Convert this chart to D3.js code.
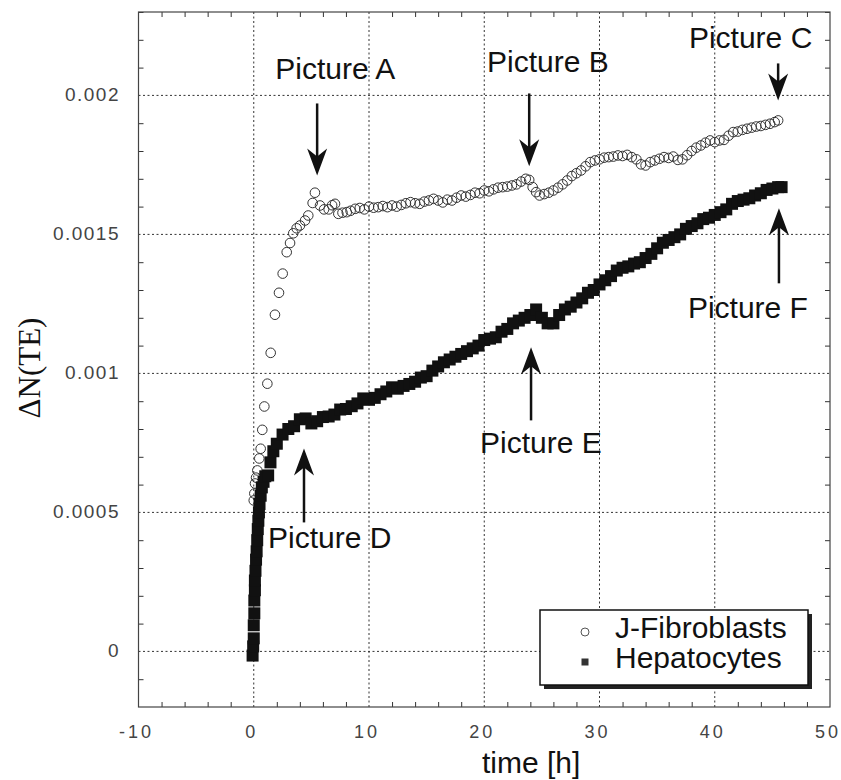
<!DOCTYPE html>
<html><head><meta charset="utf-8">
<script src="https://cdn.jsdelivr.net/npm/d3@7/dist/d3.min.js"></script>
<style>body{margin:0;background:#fff}svg{display:block}</style>
</head><body>
<svg id="chart" width="841" height="780"></svg>
<script>
// ---- data ----
const fibTime = [0.0,0.05,0.11,0.2,0.31,0.48,0.6,0.74,0.92,1.18,1.47,1.84,2.19,2.51,2.86,3.15,3.43,3.72,4.01,4.45,4.73,5.11,5.31,
 5.75,6.1,6.5,6.8,7.05,7.34,7.7,8.07,8.4,8.8,9.2,9.6,10.0,10.4,10.8,11.2,11.6,12.0,12.4,12.8,13.2,13.6,14.0,14.4,14.8,15.2,15.6,
 16.0,16.4,16.8,17.2,17.6,18.0,18.4,18.8,19.2,19.6,20.0,20.4,20.8,21.2,21.6,22.0,22.4,22.8,23.2,23.6,23.9,24.2,24.5,24.8,25.2,25.6,
 26.0,26.4,26.8,27.2,27.6,28.0,28.4,28.8,29.2,29.6,30.0,30.4,30.8,31.2,31.6,32.0,32.4,32.8,33.2,33.6,34.0,34.4,34.8,35.2,35.6,
 36.0,36.4,36.8,37.2,37.6,38.0,38.4,38.8,39.2,39.6,40.0,40.4,40.8,41.2,41.6,42.0,42.4,42.8,43.2,43.6,44.0,44.4,44.8,45.2,45.5];
const fibValue = [0.000543,0.000568,0.000604,0.000625,0.000651,0.000694,0.000729,0.000797,0.000881,0.000963,0.001074,0.001211,0.00129,0.001359,0.001436,0.001469,0.001504,0.001522,0.001532,0.00155,0.001568,0.001613,0.00165,
 0.001604,0.00159,0.00159,0.001605,0.00161,0.001574,0.001578,0.00158,0.001585,0.001592,0.001595,0.00159,0.0016,0.001596,0.001598,0.001602,0.001598,0.001604,0.0016,0.001606,0.001612,0.001616,0.001612,0.00161,0.001618,0.001622,0.001628,
 0.001622,0.001615,0.001625,0.001622,0.001632,0.00164,0.001636,0.001642,0.00165,0.001648,0.001658,0.001655,0.001662,0.001668,0.00167,0.001672,0.001676,0.00168,0.00169,0.0017,0.001696,0.00167,0.001652,0.00164,0.001645,0.00165,
 0.001658,0.001668,0.00168,0.001694,0.00171,0.00172,0.00173,0.001745,0.00176,0.001766,0.00177,0.001776,0.001778,0.00178,0.001784,0.001782,0.001786,0.001778,0.00177,0.001752,0.001748,0.00176,0.001766,0.001772,0.001778,
 0.001775,0.00178,0.001768,0.00177,0.001785,0.0018,0.001812,0.00182,0.00183,0.001838,0.001832,0.001838,0.00184,0.001855,0.001868,0.00187,0.001876,0.00188,0.001884,0.001888,0.00189,0.001894,0.001898,0.001904,0.00191];

const hepTime = [-0.1,-0.05,0,0,0.05,0.05,0.1,0.1,0.15,0.2,0.25,0.3,0.35,0.4,0.45,0.5,0.6,0.7,0.85,1.0,1.25,1.45,1.7,2.0,
 2.5,3.0,3.5,4.0,4.5,5.0,5.5,6.0,6.5,7.0,7.5,8.0,8.5,9.0,9.5,10.0,10.5,11.0,11.5,12.0,12.5,13.0,13.5,14.0,14.5,15.0,15.5,
 16.0,16.5,17.0,17.5,18.0,18.5,19.0,19.5,20.0,20.5,21.0,21.5,22.0,22.5,23.0,23.5,24.0,24.5,25.0,25.5,26.0,26.5,27.0,27.5,
 28.0,28.5,29.0,29.5,30.0,30.5,31.0,31.5,32.0,32.5,33.0,33.5,34.0,34.5,35.0,35.5,36.0,36.5,37.0,37.5,38.0,38.5,39.0,39.5,
 40.0,40.5,41.0,41.5,42.0,42.5,43.0,43.5,44.0,44.5,45.0,45.5,45.8];
const hepValue = [-0.000015,0.000018,0.000047,0.000094,0.000137,0.000183,0.00022,0.000255,0.00029,0.00033,0.00036,0.0004,0.00044,0.00047,0.0005,0.00053,0.00056,0.00059,0.00061,0.00063,0.000633,0.00068,0.00072,0.000747,
 0.00078,0.0008,0.00081,0.000835,0.000838,0.00082,0.000828,0.000843,0.000845,0.000852,0.00087,0.000872,0.000882,0.000892,0.00091,0.000905,0.000912,0.000925,0.000935,0.00095,0.000945,0.000955,0.000962,0.00097,0.000985,0.00099,0.00101,
 0.001025,0.00104,0.00105,0.00106,0.00107,0.00108,0.00109,0.0011,0.00112,0.001125,0.00113,0.00115,0.00116,0.00118,0.00119,0.0012,0.00121,0.00123,0.0012,0.00118,0.00118,0.00121,0.00123,0.00124,
 0.001255,0.00127,0.00129,0.0013,0.00132,0.001335,0.00135,0.00137,0.00138,0.001385,0.001395,0.0014,0.001415,0.00143,0.00145,0.00147,0.00148,0.00149,0.0015,0.00152,0.00153,0.00154,0.001555,0.00156,
 0.00157,0.00158,0.00159,0.00161,0.00162,0.001625,0.00163,0.00164,0.001648,0.00166,0.001665,0.00167,0.00167];

const xTicks = [-10,0,10,20,30,40,50];
const yTicks = [0,0.0005,0.001,0.0015,0.002];
const yTickLabels = ["0","0.0005","0.001","0.0015","0.002"];
const seriesNames = ["J-Fibroblasts","Hepatocytes"];

const annLabels = ["Picture A","Picture B","Picture C","Picture D","Picture E","Picture F"];
const annX      = [5.5, 23.9, 45.5, 4.36, 24.06, 45.57];
const annTail   = [0.001971,0.002007,0.002115,0.000464,0.000831,0.001324];
const annTip    = [0.001712,0.001745,0.001982,0.00073,0.001094,0.001594];
const annTextX  = [1.87,20.24,37.76,1.24,19.63,37.67];
const annTextY  = [0.002058,0.002083,0.002169,0.000371,0.000712,0.001201];

// ---- layout ----
const L=138.5, R=830, T=12, B=707;
const svg = d3.select("#chart");
const x = d3.scaleLinear().domain([-10,50]).range([L,R]);
const y = d3.scaleLinear().domain([-0.0002,0.0023]).range([B,T]);

// grid
const gridX = xTicks.filter(v=>v>-10 && v<50);
svg.append("g").selectAll("line").data(gridX).join("line")
  .attr("x1",d=>x(d)).attr("x2",d=>x(d)).attr("y1",T).attr("y2",B)
  .attr("stroke","#333").attr("stroke-width",1).attr("stroke-dasharray","2,2.5");
svg.append("g").selectAll("line").data(yTicks).join("line")
  .attr("y1",d=>y(d)).attr("y2",d=>y(d)).attr("x1",L).attr("x2",R)
  .attr("stroke","#333").attr("stroke-width",1).attr("stroke-dasharray","2,2.5");

// minor ticks (inward, all sides)
const minorX = d3.range(-8,50,2).filter(v=>v%10!==0);
const minorY = d3.range(-0.0001,0.00231,0.0001).filter(v=>Math.abs(Math.round(v*10000)%5)!==0);
svg.append("g").attr("transform",`translate(0,${B})`).call(d3.axisBottom(x).tickValues(minorX).tickSize(-5).tickFormat(""));
svg.append("g").attr("transform",`translate(0,${T})`).call(d3.axisTop(x).tickValues(minorX).tickSize(-5).tickFormat(""));
svg.append("g").attr("transform",`translate(${L},0)`).call(d3.axisLeft(y).tickValues(minorY).tickSize(-5).tickFormat(""));
svg.append("g").attr("transform",`translate(${R},0)`).call(d3.axisRight(y).tickValues(minorY).tickSize(-5).tickFormat(""));
svg.selectAll(".domain").remove();
svg.selectAll(".tick line").attr("stroke","#333");

// frame
svg.append("rect").attr("x",L).attr("y",T).attr("width",R-L).attr("height",B-T)
  .attr("fill","none").attr("stroke","#444").attr("stroke-width",1.2);

// tick labels
svg.append("g").selectAll("text").data(xTicks).join("text")
  .attr("x",d=>x(d)-2).attr("y",738).attr("text-anchor","middle")
  .attr("font-family","Liberation Sans, Arial, sans-serif").attr("font-size",18)
  .attr("letter-spacing",3).attr("fill","#444").text(d=>d);
svg.append("g").selectAll("text").data(yTicks).join("text")
  .attr("x",120).attr("y",d=>y(d)+6).attr("text-anchor","end")
  .attr("font-family","Liberation Sans, Arial, sans-serif").attr("font-size",19)
  .attr("letter-spacing",1.5).attr("fill","#444").text((d,i)=>yTickLabels[i]);

// axis titles
svg.append("text").attr("x",482).attr("y",773)
  .attr("font-family","Liberation Sans, Arial, sans-serif").attr("font-size",30).attr("fill","#111")
  .text("time [h]");
svg.append("text").attr("transform","translate(40,368) rotate(-90)").attr("text-anchor","middle")
  .attr("font-family","Liberation Serif, Times New Roman, serif").attr("font-size",31).attr("fill","#111")
  .text("\u0394N(TE)");

// series
const fib = fibTime.map((t,i)=>({t, v:fibValue[i]}));
const hep = hepTime.map((t,i)=>({t, v:hepValue[i]}));
svg.append("g").selectAll("circle").data(fib).join("circle")
  .attr("cx",d=>x(d.t)).attr("cy",d=>y(d.v)).attr("r",4.8)
  .attr("fill","none").attr("stroke","#333").attr("stroke-width",1);
const sq=12;
svg.append("g").selectAll("rect").data(hep).join("rect")
  .attr("x",d=>x(d.t)-sq/2).attr("y",d=>y(d.v)-sq/2).attr("width",sq).attr("height",sq)
  .attr("fill","#111");

// annotations
const ann = annLabels.map((s,i)=>({s, x:annX[i], tail:annTail[i], tip:annTip[i], tx:annTextX[i], ty:annTextY[i]}));
const ag = svg.append("g");
ann.forEach(a=>{
  const px=x(a.x), tip=y(a.tip), tail=y(a.tail);
  const dir = tip>tail ? 1 : -1;
  ag.append("line").attr("x1",px).attr("x2",px).attr("y1",tail).attr("y2",tip-dir*18)
    .attr("stroke","#111").attr("stroke-width",2.5);
  ag.append("path").attr("d",`M${px},${tip} L${px-10},${tip-dir*27} L${px},${tip-dir*19} L${px+10},${tip-dir*27} Z`)
    .attr("fill","#111");
  ag.append("text").attr("x",x(a.tx)).attr("y",y(a.ty))
    .attr("font-family","Liberation Sans, Arial, sans-serif").attr("font-size",30).attr("fill","#111")
    .text(a.s);
});

// legend
const lg = svg.append("g");
lg.append("rect").attr("x",544).attr("y",614).attr("width",268).attr("height",75).attr("fill","#222");
lg.append("rect").attr("x",540).attr("y",610).attr("width",268).attr("height",75)
  .attr("fill","#fff").attr("stroke","#111").attr("stroke-width",1.5);
lg.append("circle").attr("cx",585).attr("cy",632).attr("r",4).attr("fill","none").attr("stroke","#555");
lg.append("rect").attr("x",581.5).attr("y",658.5).attr("width",7).attr("height",7).attr("fill","#333");
lg.selectAll("text.lt").data(seriesNames).join("text").attr("class","lt")
  .attr("x",615).attr("y",(d,i)=>638+i*30)
  .attr("font-family","Liberation Sans, Arial, sans-serif").attr("font-size",30).attr("fill","#111")
  .text(d=>d);
</script>
</body></html>
